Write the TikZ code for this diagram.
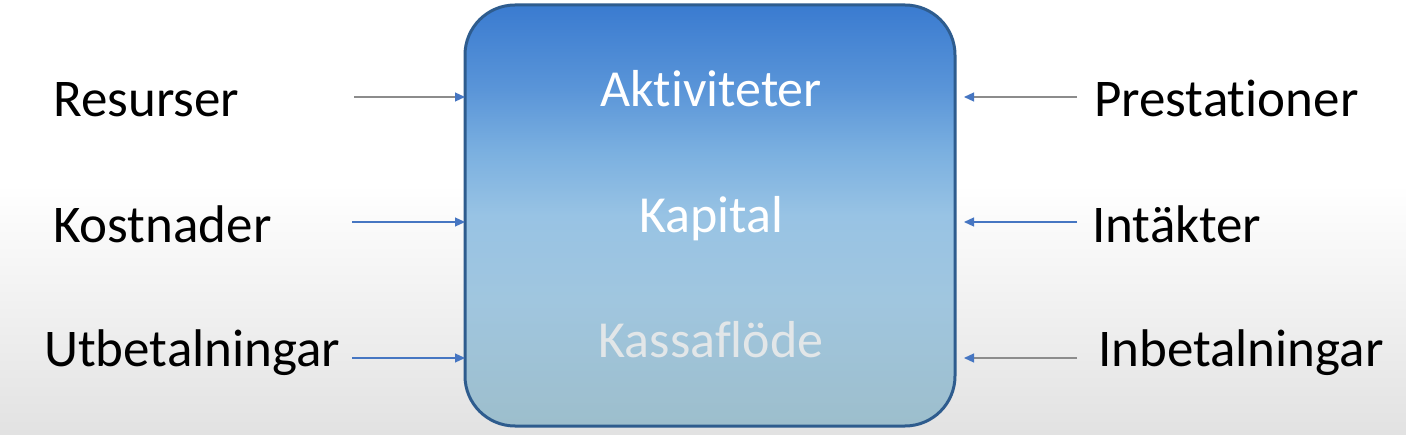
\documentclass[tikz,border=0pt]{standalone}
\usepackage{fontspec}
\setmainfont[Ligatures=NoCommon]{Carlito}
\usetikzlibrary{arrows.meta}
\usepackage{xcolor}
\definecolor{BoxT}{HTML}{3A7BD0}
\definecolor{BoxA}{HTML}{5A95D8}
\definecolor{BoxC}{HTML}{7BB0E0}
\definecolor{BoxM}{HTML}{98C3E4}
\definecolor{BoxL}{HTML}{A0C6DF}
\definecolor{BoxB}{HTML}{9DBECC}
\definecolor{BoxD}{HTML}{2E5C8E}
\definecolor{TxL} {HTML}{E2E6E8}
\definecolor{BgB} {HTML}{E2E2E2}
\definecolor{AB}  {HTML}{4676C2}
\definecolor{AG}  {HTML}{8C8C8C}
\pgfdeclareverticalshading{coreshade}{100bp}{
  color(0bp)=(BoxB); color(25bp)=(BoxB); color(40bp)=(BoxL);
  color(50bp)=(BoxM); color(57.5bp)=(BoxC); color(65bp)=(BoxA);
  color(75bp)=(BoxT); color(100bp)=(BoxT)}
\tikzset{
  LBL/.style={
    anchor=base west, inner sep=0pt,
    font=\fontsize{53}{60}\selectfont
  },
  INR/.style={
    anchor=base, inner sep=0pt, text=#1,
    font=\fontsize{52}{60}\selectfont
  },
  ARR/.style={
    -{Triangle[length=10pt,width=9pt,color=AB]},
    line width=1.2pt, color=#1
  },
}

\begin{document}
\begin{tikzpicture}[x=1pt,y=1pt]

%================ BACKGROUND =================
\useasboundingbox (0,0) rectangle (1406,434);
\fill[white] (0,0) rectangle (1406,434);
\shade[top color=white,bottom color=BgB] (0,0) rectangle (1406,250);

%================ CORE BOX =================
\node[draw=BoxD,line width=3pt,rounded corners=50pt,shading=coreshade,
minimum width=490pt,minimum height=421pt,inner sep=0pt,outer sep=0pt]
(core) at (710,218.5) {};

\node[INR=white] (akt) at (711,327) {Aktiviteter};
\node[INR=white] (kap) at (711,201) {Kapital};
\node[INR=TxL]   (kas) at (711,77)  {Kassaflöde};

%================ LEFT LABELS =================
\node[LBL] (res) at (53,317)  {Resurser};
\node[LBL] (kos) at (53,191)  {Kostnader};
\node[LBL] (utb) at (44,67)   {Utbetalningar};

%================ RIGHT LABELS =================
\node[LBL] (pre) at (1094,317) {Prestationer};
\node[LBL] (int) at (1092,191) {Intäkter};
\node[LBL] (inb) at (1098,67)  {Inbetalningar};

%================ ARROW ENDS =================
\coordinate (resA) at (354,337);
\coordinate (kosA) at (352,212);
\coordinate (utbA) at (352,76);
\coordinate (preA) at (1077,337);
\coordinate (intA) at (1077,212);
\coordinate (inbA) at (1077,76);

%================ INFLOWS =================
\draw[ARR=AG] (resA)--(resA-|core.west);
\draw[ARR=AB] (kosA)--(kosA-|core.west);
\draw[ARR=AB] (utbA)--(utbA-|core.west);

%================ OUTFLOWS =================
\draw[ARR=AG,shorten >=9pt] (preA)--(preA-|core.east);
\draw[ARR=AB,shorten >=9pt] (intA)--(intA-|core.east);
\draw[ARR=AG,shorten >=9pt] (inbA)--(inbA-|core.east);

\end{tikzpicture}
\end{document}
